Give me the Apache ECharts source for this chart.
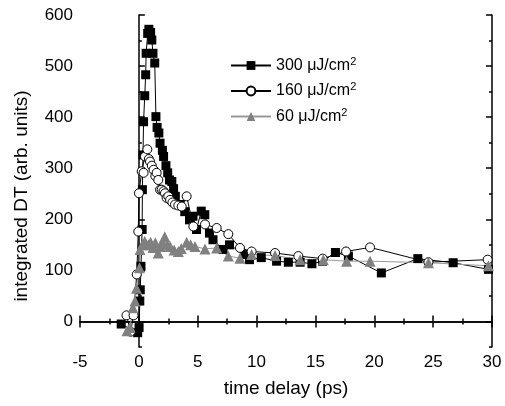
<!DOCTYPE html>
<html><head><meta charset="utf-8">
<script src="https://cdn.jsdelivr.net/npm/echarts@6/dist/echarts.min.js"></script>
<style>html,body{margin:0;padding:0;background:#fff}#c{width:505px;height:406px}</style>
</head><body><div id="c"></div>
<script>
const legendNames = ['300 μJ/cm²', '160 μJ/cm²', '60 μJ/cm²'];
const xTicks = [-5, 0, 5, 10, 15, 20, 25, 30];
const yTicks = [0, 100, 200, 300, 400, 500, 600];

const t300 = [-1.5,-0.1,0.02,0.08,0.12,0.18,0.28,0.3,0.35,0.4,0.5,0.58,0.62,0.75,0.85,1.0,1.1,1.2,1.35,1.45,1.55,1.7,1.8,2.0,2.1,2.3,2.45,2.6,2.8,2.95,3.1,3.5,3.9,4.3,4.6,4.9,5.3,5.6,6.0,6.3,7.15,7.7,9.0,9.4,10.4,11.7,12.7,13.7,14.7,15.6,16.7,17.8,20.6,23.7,26.7,29.7];
const v300 = [-5,-22,-12,40,62,108,180,258,326,391,442,483,525,564,572,566,551,525,506,401,380,369,349,335,323,305,291,277,274,260,245,229,215,199,206,180,216,209,173,160,141,150,131,121,125,118,116,116,113,118,135,128,95,123,115,102];

const t160 = [-1.05,-0.7,-0.45,-0.18,-0.05,0.01,0.24,0.4,0.52,0.72,0.85,0.95,1.1,1.25,1.4,1.51,1.65,1.8,1.94,2.1,2.22,2.36,2.5,2.65,2.85,3.07,3.35,3.64,4.06,4.63,5.62,6.61,7.6,8.59,9.58,11.57,13.55,15.62,17.6,19.64,24.6,29.63];
const v160 = [12,-20,12,92,176,251,294,291,323,337,318,313,305,297,285,291,277,258,258,255,251,242,245,238,233,229,227,225,245,186,190,183,171,144,137,134,128,123,137,145,116,121];

const t60 = [-1.0,-0.75,-0.5,-0.33,-0.2,0.05,0.1,0.3,0.5,0.8,1.0,1.2,1.4,1.65,1.8,2.0,2.2,2.4,2.65,3.0,3.35,3.6,4.06,4.4,4.77,5.62,6.61,7.6,8.59,9.58,11.57,13.7,15.67,17.65,19.64,24.6,29.7];
const v60 = [-18,-12,27,40,65,105,141,150,157,150,155,145,154,134,147,155,166,150,147,140,137,143,155,150,147,142,144,128,124,131,129,121,121,118,118,115,109];

const zip = (a, b) => a.map((x, i) => [x, b[i]]);
const chart = echarts.init(document.getElementById('c'));
const FONT = 'Liberation Sans, Arial, sans-serif';
const axisLine = { show: true, lineStyle: { color: '#000', width: 1.5 } };
const yMinor = [];
for (let v = -50; v <= 600; v += 50) yMinor.push(v);

const xBase = (pos, labels) => ({
  type: 'value', position: pos, min: -5, max: 30, interval: 5,
  axisLine: axisLine,
  axisTick: { show: true, inside: true, length: 6, lineStyle: { color: '#000', width: 1.5 } },
  minorTick: { show: true, splitNumber: 2, length: 3, lineStyle: { color: '#000', width: 1.5 } },
  splitLine: { show: false },
  axisLabel: { show: labels, color: '#000', fontSize: 17, fontFamily: FONT, margin: 7 }
});
const yMajor = (pos, labels) => ({
  type: 'value', position: pos, min: -50, max: 600,
  axisLine: axisLine,
  axisTick: { show: true, inside: true, length: 6, customValues: yTicks, lineStyle: { color: '#000', width: 1.5 } },
  splitLine: { show: false },
  axisLabel: { show: labels, customValues: yTicks, color: '#000', fontSize: 17, fontFamily: FONT, margin: 7 }
});
const yMin = (pos) => ({
  type: 'value', position: pos, min: -50, max: 600,
  axisLine: { show: false },
  axisTick: { show: true, inside: true, length: 3, customValues: yMinor, lineStyle: { color: '#000', width: 1.5 } },
  splitLine: { show: false },
  axisLabel: { show: false }
});

chart.setOption({
  animation: false,
  backgroundColor: '#fff',
  grid: { left: 80, right: 13, top: 15, bottom: 59, containLabel: false },
  xAxis: [
    Object.assign(xBase('bottom', true), {
      name: 'time delay (ps)', nameLocation: 'middle', nameGap: 32,
      nameTextStyle: { color: '#000', fontSize: 19, fontFamily: FONT }
    }),
    xBase('top', false)
  ],
  yAxis: [yMajor('left', true), yMin('left'), yMajor('right', false), yMin('right')],
  graphic: [{
    type: 'text', x: 22, y: 196, rotation: Math.PI / 2,
    style: { text: 'integrated DT (arb. units)', fill: '#000', fontSize: 19, fontFamily: FONT,
             align: 'center', verticalAlign: 'middle' }
  }],
  legend: {
    orient: 'vertical', left: 225, top: 51, itemWidth: 40, itemHeight: 11, itemGap: 7,
    data: legendNames,
    textStyle: { color: '#000', fontSize: 16, fontFamily: FONT, lineHeight: 18,
      rich: { a: { fontSize: 16, fontFamily: FONT, color: '#000' },
              s: { fontSize: 11, fontFamily: FONT, color: '#000', padding: [0, 0, 8, 0] } } },
    formatter: n => '{a|' + n.replace('²', '') + '}{s|2}'
  },
  series: [
    { name: legendNames[0], type: 'line', data: zip(t300, v300), symbol: 'rect', symbolSize: 9,
      itemStyle: { color: '#000' }, lineStyle: { color: '#000', width: 1 } },
    { name: legendNames[1], type: 'line', data: zip(t160, v160), symbol: 'circle', symbolSize: 9,
      itemStyle: { color: '#fff', borderColor: '#000', borderWidth: 1 }, lineStyle: { color: '#000', width: 1 } },
    { name: legendNames[2], type: 'line', data: zip(t60, v60), symbol: 'triangle', symbolSize: 11,
      itemStyle: { color: '#808080' }, lineStyle: { color: '#999', width: 1 } }
  ]
});
</script></body></html>
